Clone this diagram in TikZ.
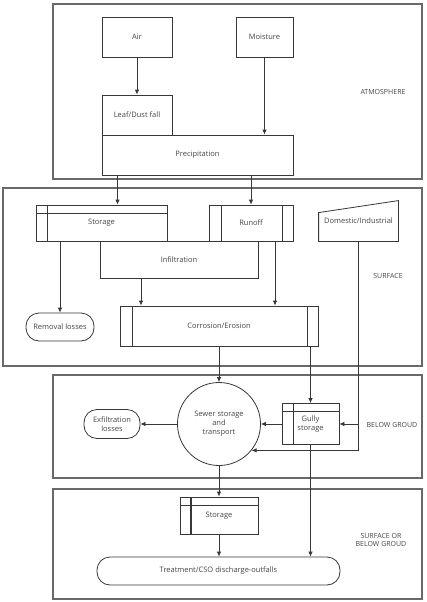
\documentclass[tikz,border=0pt]{standalone}
\usepackage{fontspec}
\setmainfont{Open Sans}
\usepackage{tikz}
\usetikzlibrary{arrows.meta, positioning, calc}
\definecolor{cLine}{RGB}{55,55,55}
\definecolor{cFrame}{RGB}{105,105,105}
\definecolor{cText}{RGB}{70,70,70}
\tikzset{
	zone/.style     ={draw=cFrame, line width=1.2pt},
	zonelabel/.style={text=cText, align=center, font=\fontsize{7}{8.5}\selectfont},
	process/.style  ={rectangle, draw=cLine, line width=0.8pt, align=center, text=cText, inner sep=1pt},
	manin/.style    ={process, draw=none},
	predef/.style   ={process, path picture={\draw[cLine, line width=0.8pt] ([xshift=12pt]path picture bounding box.north west) -- ([xshift=12pt]path picture bounding box.south west) ([xshift=-11pt]path picture bounding box.north east) -- ([xshift=-11pt]path picture bounding box.south east);}},
	storebox/.style ={process, path picture={\draw[cLine, line width=0.8pt, #1] ([xshift=11pt]path picture bounding box.north west) -- ([xshift=11pt]path picture bounding box.south west); \draw[cLine, line width=0.8pt] ([yshift=-8pt]path picture bounding box.north west) -- ([yshift=-8pt]path picture bounding box.north east);}},
	storebox/.default={},
	terminal/.style ={process, rounded corners=13pt},
	sewercirc/.style={circle, draw=cLine, line width=0.8pt, align=center, text=cText, minimum size=83pt, inner sep=0pt},
	flowarrow/.style={-{Latex[length=5pt, width=4.5pt]}, draw=cLine, line width=0.8pt},
	flowline/.style ={draw=cLine, line width=0.8pt},
}
\begin{document}
\begin{tikzpicture}[x=1pt, y=-1pt, font=\fontsize{7.5}{9}\selectfont]
	\fill[white] (0,0) rectangle (426,602);
	\useasboundingbox (0,0) rectangle (426,602);
	% layers
	\draw[zone] (53,4) rectangle (422,179);
	\draw[zone] (3,188) rectangle (422,366);
	\draw[zone] (53,375) rectangle (422,478);
	\draw[zone] (53,489) rectangle (422,599);
	\node[zonelabel] (lblatm) at (383,92) {ATMOSPHERE};
	\node[zonelabel] (lblsurf) at (388,276) {SURFACE};
	\node[zonelabel] (lblbelow) at (392,425) {BELOW GROUD};
	\node[zonelabel] (lblout) at (381,540) {SURFACE OR\\BELOW GROUD};
	% atmosphere
	\node[process, minimum width=70pt, minimum height=40pt] (air) at (137,37) {Air};
	\node[process, minimum width=57pt, minimum height=40pt] (moist) at (264.5,37) {Moisture};
	\node[process, minimum width=70pt, minimum height=40pt] (leaf) at (137,115) {Leaf/Dust fall};
	\node[process, minimum width=191pt, minimum height=40pt] (precip) at (197.5,155) {Precipitation};
	% surface
	\node[storebox, minimum width=131pt, minimum height=36pt] (stor) at (101.5,223) {Storage};
	\node[predef, minimum width=84pt, minimum height=36pt] (runoff) at (251,223) {Runoff};
	\node[manin, minimum width=79pt, minimum height=40pt] (dom) at (358.5,221) {Domestic/Industrial};
	\draw[flowline] (dom.south west) -- ([yshift=-12pt]dom.north west) -- (dom.north east) -- (dom.south east) -- cycle;
	\node[process, minimum width=158pt, minimum height=37pt] (infil) at (179,259.5) {Infiltration};
	\node[terminal, minimum width=68pt, minimum height=28pt] (remov) at (60,327) {Removal losses};
	\node[predef, minimum width=198pt, minimum height=40pt] (corr) at (219,326) {Corrosion/Erosion};
	% below ground
	\node[sewercirc] (sewer) at (219,424) {Sewer storage\\and\\transport};
	\node[storebox, minimum width=57pt, minimum height=41pt] (gully) at (310.5,424) {Gully\\storage};
	\node[terminal, minimum width=56pt, minimum height=29pt] (exfil) at (112,424) {Exfiltration\\losses};
	% outlet
	\node[storebox={line width=2pt}, minimum width=78pt, minimum height=37pt] (stor2) at (219,515.5) {Storage};
	\node[terminal, minimum width=243pt, minimum height=28pt] (treat) at (218.5,571) {Treatment/CSO discharge-outfalls};
	% flows
	\draw[flowarrow] (air.south) -- (leaf.north);
	\draw[flowarrow] (moist.south) -- (moist.south |- precip.north);
	\draw[flowarrow] ([xshift=-80pt]precip.south) -- ([xshift=-80pt]precip.south |- stor.north);
	\draw[flowarrow] (precip.south -| runoff.north) -- (runoff.north);
	\draw[flowarrow] (stor.south -| remov.north) -- (remov.north);
	\draw[flowarrow] ([xshift=-38pt]infil.south) -- ([xshift=-38pt]infil.south |- corr.north);
	\draw[flowarrow] ([xshift=24pt]runoff.south) -- ([xshift=24pt]runoff.south |- corr.north);
	\draw[flowarrow] (corr.south) -- (sewer.north);
	\draw[flowarrow] (corr.south -| gully.north) -- (gully.north);
	\draw[flowarrow] (dom.south) |- (sewer.-39);
	\draw[flowarrow] (dom.south |- gully.east) -- (gully.east);
	\draw[flowarrow] (gully.west) -- (sewer.east);
	\draw[flowarrow] (sewer.west) -- (exfil.east);
	\draw[flowarrow] (sewer.south) -- (stor2.north);
	\draw[flowarrow] (stor2.south) -- (stor2.south |- treat.north);
	\draw[flowarrow] (gully.south) -- (gully.south |- treat.north);
\end{tikzpicture}
\end{document}
